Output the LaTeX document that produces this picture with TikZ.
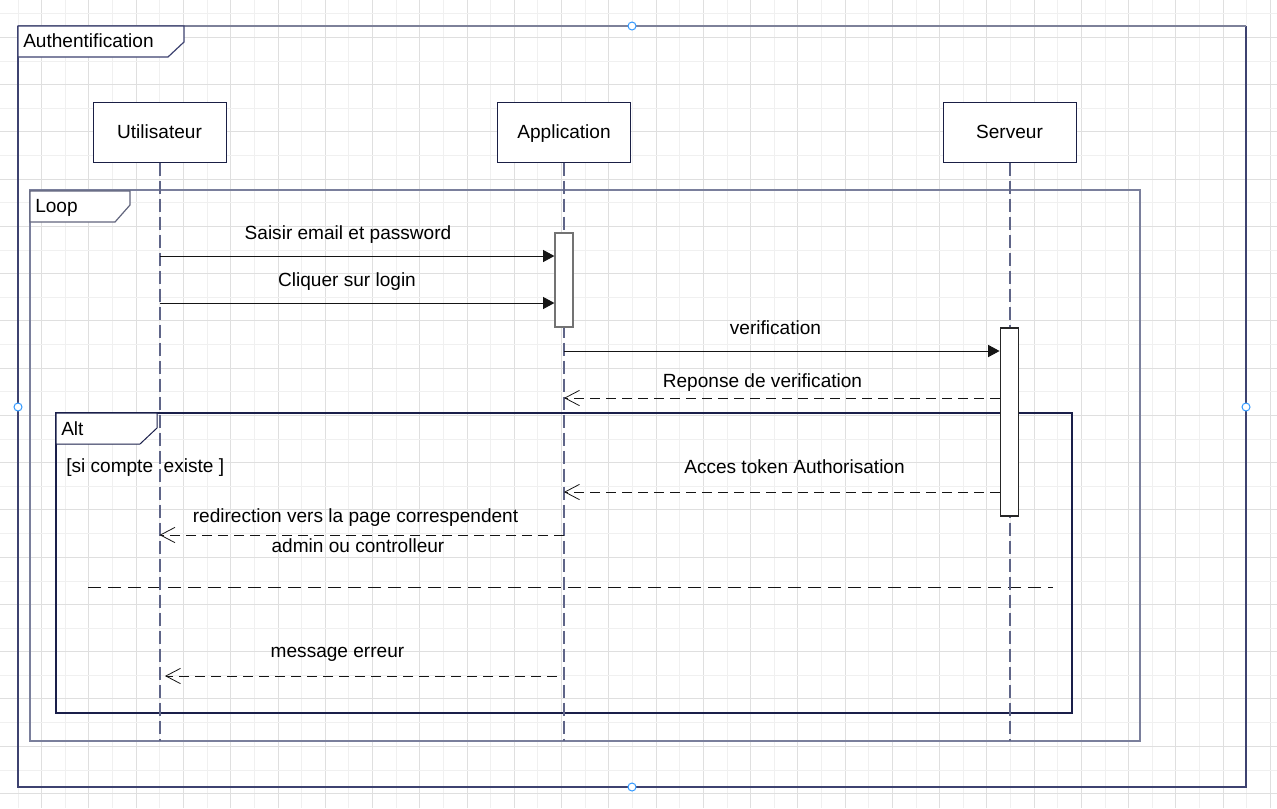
\documentclass[tikz,border=0pt]{standalone}
\usepackage{fontspec}
\setmainfont{Liberation Sans}
\usetikzlibrary{arrows.meta}
\definecolor{gridminor}{HTML}{F0F0F0}
\definecolor{gridmajor}{HTML}{DFDFDF}
\definecolor{frameouter}{HTML}{3D4270}
\definecolor{frametop}{HTML}{7D8199}
\definecolor{frameloop}{HTML}{7A7F9C}
\definecolor{framealt}{HTML}{1A1F4A}
\definecolor{lifeline}{HTML}{5F6588}
\definecolor{boxline}{HTML}{1A1F45}
\definecolor{handle}{HTML}{3399FF}
\definecolor{msgcol}{HTML}{151515}
\begin{document}
\begin{tikzpicture}[x=0.75pt,y=-0.75pt,
  font=\fontsize{14.3}{17}\selectfont,
  lifebox/.style={draw=boxline,line width=0.75pt,fill=white,minimum width=99.75pt,minimum height=45pt,inner sep=0pt,text height=12pt,text depth=2pt},
  actbar/.style={draw=#1,line width=0.9pt,fill=white,inner sep=0pt},
  lifeln/.style={draw=lifeline,line width=1.5pt,dash pattern=on 10pt off 3.5pt},
  syncmsg/.style={draw=msgcol,line width=0.75pt,-{Triangle[length=8.5pt,width=9pt]}},
  replymsg/.style={draw=msgcol,line width=0.75pt,dash pattern=on 7.5pt off 4.5pt,-{Straight Barb[length=11pt,width=11.5pt,line width=0.6pt]}},
  lbl/.style={inner sep=0pt,anchor=center,text=black,text height=12pt,text depth=2pt},
  lbll/.style={inner sep=0pt,anchor=west,text=black,text height=12pt,text depth=2pt},
  hdl/.style={draw=handle,fill=white,line width=0.75pt}
]
\useasboundingbox (0,0) rectangle (1277,808);
\fill[white] (0,0) rectangle (1277,808);
% grid
\foreach \i in {0,...,26} {
  \draw[gridminor,line width=0.75pt] ({18.1+\i*47.26},0) -- ({18.1+\i*47.26},808);
  \draw[gridmajor,line width=0.75pt] ({41.7+\i*47.26},0) -- ({41.7+\i*47.26},808);
}
\foreach \i in {0,...,16} {
  \draw[gridminor,line width=0.75pt] (0,{13.9+\i*47.26}) -- (1277,{13.9+\i*47.26});
  \draw[gridmajor,line width=0.75pt] (0,{37.3+\i*47.26}) -- (1277,{37.3+\i*47.26});
}
% outer frame
\draw[frameouter,line width=1.3pt] (18,26) -- (18,787) -- (1246,787) -- (1246,26);
\draw[frametop,line width=1.3pt] (18,26) -- (1246,26);
\draw[frameouter,line width=0.9pt,fill=white] (18,26) -- (184,26) -- (184,42) -- (168,57) -- (18,57) -- cycle;
\node[lbll] (tagauth) at (23,41) {Authentification};
% loop frame
\draw[frameloop,line width=1.3pt] (30,190) rectangle (1140,741);
\draw[frameloop!80!black,line width=0.9pt,fill=white] (30,191) -- (130,191) -- (130,205) -- (115,222) -- (30,222) -- cycle;
\node[lbll] (tagloop) at (35,206) {Loop};
% alt frame
\draw[framealt,line width=0.8pt] (56,413) rectangle (1072,713);
\draw[framealt,line width=0.75pt,fill=white] (56,413) -- (157,413) -- (157,428) -- (140,444) -- (56,444) -- cycle;
\node[lbll] (tagalt) at (61,429) {Alt};
\node[lbll] (guard) at (66,466) {[si compte\ \ existe ]};
\draw[msgcol,line width=0.75pt,dash pattern=on 9.75pt off 5.25pt] (88,587) coordinate (sepL) -- (1053,587) coordinate (sepR);
% lifeline heads
\node[lifebox] (u) at (159.5,132) {Utilisateur};
\node[lifebox] (a) at (564,132) {Application};
\node[lifebox] (s) at (1009.5,132) {Serveur};
\coordinate (bot) at (0,741);
\draw[lifeln] (u.south) -- (u.south |- bot);
\draw[lifeln] (a.south) -- (a.south |- bot);
\draw[lifeln] (s.south) -- (s.south |- bot);
% activation bars
\node[actbar=gray!90!black,minimum width=13.5pt,minimum height=70.5pt] (ab1) at (564,280) {};
\node[actbar=black!85,minimum width=14pt,minimum height=141pt] (ab2) at (1009.5,422) {};
% message levels
\coordinate (y1) at (0,256);
\coordinate (y2) at (0,303);
\coordinate (y3) at (0,351);
\coordinate (y4) at (0,398);
\coordinate (y5) at (0,492);
\coordinate (y6) at (0,535);
\coordinate (m8s) at (557,676);
\coordinate (m8e) at (165,676);
\draw[syncmsg] (u.south |- y1) -- (ab1.west |- y1);
\draw[syncmsg] (u.south |- y2) -- (ab1.west |- y2);
\draw[syncmsg] (a.south |- y3) -- (ab2.west |- y3);
\draw[replymsg] (ab2.west |- y4) -- (a.south |- y4);
\draw[replymsg] (ab2.west |- y5) -- (a.south |- y5);
\draw[replymsg] (a.south |- y6) -- (u.south |- y6);
\draw[replymsg] (m8s) -- (m8e);
% labels
\node[lbl] (l1) at (348,233) {Saisir email et password};
\node[lbl] (l2) at (347,280) {Cliquer sur login};
\node[lbl] (l3) at (775.5,328) {verification};
\node[lbl] (l4) at (762.5,381) {Reponse de verification};
\node[lbl] (l5) at (794.5,467) {Acces token Authorisation};
\node[lbl] (l6) at (355.5,516) {redirection vers la page correspendent};
\node[lbl] (l6b) at (358,546) {admin ou controlleur};
\node[lbl] (l8) at (337.5,651) {message erreur};
% selection handles
\draw[hdl] (632,26) circle (3pt);
\draw[hdl] (18,407) circle (3pt);
\draw[hdl] (1246,407) circle (3pt);
\draw[hdl] (632,787) circle (3pt);
\end{tikzpicture}
\end{document}
